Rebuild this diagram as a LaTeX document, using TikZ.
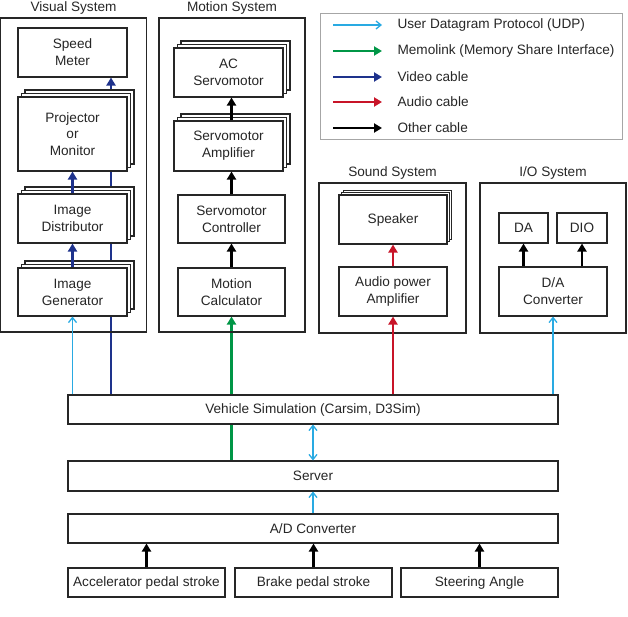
\documentclass[tikz,border=0pt]{standalone}
\usepackage{fontspec}
\setmainfont{Liberation Sans}
\usetikzlibrary{arrows.meta,shadows,backgrounds}
\definecolor{udpcyan}{RGB}{41,170,226}
\definecolor{memgreen}{RGB}{0,150,70}
\definecolor{vidblue}{RGB}{30,50,140}
\definecolor{audred}{RGB}{200,20,40}
\begin{document}
\begin{tikzpicture}[x=1pt,y=-1pt,
                font=\fontsize{13.6}{16.8}\selectfont,
                box/.style={draw=black!85,line width=1.1pt,fill=white,inner sep=0pt,align=center,text=black!85},
                group/.style={draw=black!85,line width=1.1pt,inner sep=0pt,label={[text=black!85]above:#1}},
                shd/.style={draw=black!85,fill=white,line width=1.1pt,shadow xshift=#1,shadow yshift=#1},
                stack/.style={box,copy shadow={shd=7pt},copy shadow={shd=3.5pt}},
                stacks/.style={box,copy shadow={shd=4.5pt},copy shadow={shd=2.2pt}},
                udp/.style={draw=udpcyan,line width=1.3pt,>={Straight Barb[length=5pt,width=8pt]}},
                cable/.style={line width=2.7pt,>={Triangle[length=8pt,width=9pt]},->},
                memo/.style={cable,draw=memgreen},
                video/.style={cable,draw=vidblue},
                audio/.style={cable,draw=audred},
                other/.style={cable,draw=black}]
                \useasboundingbox (0,0) rectangle (628,617);
                \node[group=Visual System, minimum width=146pt, minimum height=314pt] (vis) at (73.5,175) {};
                \node[group=Motion System, minimum width=146pt, minimum height=314pt] (mot) at (232,175) {};
                \node[group=Sound System, minimum width=147pt, minimum height=150pt] (snd) at (392.5,258) {};
                \node[group=I/O System, minimum width=146pt, minimum height=150pt] (ios) at (553,258) {};
                \node[draw=black!35, line width=1pt, minimum width=302pt, minimum height=126pt] (legend) at (471,77) {};
                \node[box, minimum width=109pt, minimum height=49pt] (speed) at (72.5,52.5) {Speed\\Meter};
                \node[stack, minimum width=109pt, minimum height=74pt] (proj) at (72.5,134) {Projector\\or\\Monitor};
                \node[stack, minimum width=109pt, minimum height=49pt] (dist) at (72.5,218.5) {Image\\Distributor};
                \node[stack, minimum width=109pt, minimum height=48pt] (gen) at (72.5,292) {Image\\Generator};
                \node[stack, minimum width=109pt, minimum height=49pt] (acs) at (228.5,72.5) {AC\\Servomotor};
                \node[stack, minimum width=109pt, minimum height=50pt] (amp) at (228.5,146) {Servomotor\\Amplifier};
                \node[box, minimum width=107pt, minimum height=48pt] (ctrl) at (231.5,219) {Servomotor\\Controller};
                \node[box, minimum width=107pt, minimum height=48pt] (calc) at (231.5,292) {Motion\\Calculator};
                \node[stacks, minimum width=108pt, minimum height=49pt] (spk) at (393,219.5) {Speaker};
                \node[box, minimum width=108pt, minimum height=49pt] (apa) at (393,291.5) {Audio power\\Amplifier};
                \node[box, minimum width=49pt, minimum height=30pt] (da) at (523.5,228) {DA};
                \node[box, minimum width=50pt, minimum height=30pt] (dio) at (582,228) {DIO};
                \node[box, minimum width=108pt, minimum height=49pt] (dac) at (553,291.5) {D/A\\Converter};
                \node[box, minimum width=490pt, minimum height=29pt] (veh) at (313,409.5) {Vehicle Simulation (Carsim, D3Sim)};
                \node[box, minimum width=490pt, minimum height=30pt] (srv) at (313,476) {Server};
                \node[box, minimum width=490pt, minimum height=29pt] (adc) at (313,528.5) {A/D Converter};
                \node[box, minimum width=157pt, minimum height=29pt] (acc) at (146.5,582.5) {Accelerator pedal stroke};
                \node[box, minimum width=157pt, minimum height=29pt] (brk) at (313.5,582.5) {Brake pedal stroke};
                \node[box, minimum width=157pt, minimum height=29pt] (steer) at (479.5,582.5) {Steering Angle};
                \begin{scope}[on background layer]
                \draw[video] ([xshift=38.5pt]speed.south |- veh.north) -- ([xshift=38.5pt]speed.south);
                \draw[memo] (srv.north -| ctrl.south) -- (calc.south);
                \end{scope}
                \draw[udp,->] (veh.north -| gen.south) -- (gen.south);
                \draw[video] (gen.north) -- (dist.south);
                \draw[video] (dist.north) -- (proj.south);
                \draw[other] (calc.north) -- (ctrl.south);
                \draw[other] (ctrl.north) -- (ctrl.north |- amp.south);
                \draw[other] (ctrl.north |- amp.north) -- (ctrl.north |- acs.south);
                \draw[audio] (veh.north -| apa.south) -- (apa.south);
                \draw[audio] (apa.north) -- (spk.south);
                \draw[udp,->] (veh.north -| dac.south) -- (dac.south);
                \draw[other] (dac.north -| da.south) -- (da.south);
                \draw[other] (dac.north -| dio.south) -- (dio.south);
                \draw[udp,<->] (veh.south) -- (srv.north);
                \draw[udp,->] (adc.north) -- (srv.south);
                \draw[other] (acc.north) -- (adc.south -| acc.north);
                \draw[other] (brk.north) -- (adc.south -| brk.north);
                \draw[other] (steer.north) -- (adc.south -| steer.north);
                \node[anchor=west, text=black!85] (tudp) at (394,25) {User Datagram Protocol (UDP)};
                \node[anchor=west, text=black!85] (tmemo) at (394,51) {Memolink (Memory Share Interface)};
                \node[anchor=west, text=black!85] (tvideo) at (394,77) {Video cable};
                \node[anchor=west, text=black!85] (taudio) at (394,102) {Audio cable};
                \node[anchor=west, text=black!85] (tother) at (394,128) {Other cable};
                \coordinate (ludp) at (333,25);
                \coordinate (lmemo) at (333,51);
                \coordinate (lvideo) at (333,77);
                \coordinate (laudio) at (333,102);
                \coordinate (lother) at (333,128);
                \draw[udp,->] (ludp) -- ([xshift=-12pt]tudp.west);
                \draw[memo] (lmemo) -- ([xshift=-12pt]tmemo.west);
                \draw[video] (lvideo) -- ([xshift=-12pt]tvideo.west);
                \draw[audio] (laudio) -- ([xshift=-12pt]taudio.west);
                \draw[other] (lother) -- ([xshift=-12pt]tother.west);
            \end{tikzpicture}
\end{document}
